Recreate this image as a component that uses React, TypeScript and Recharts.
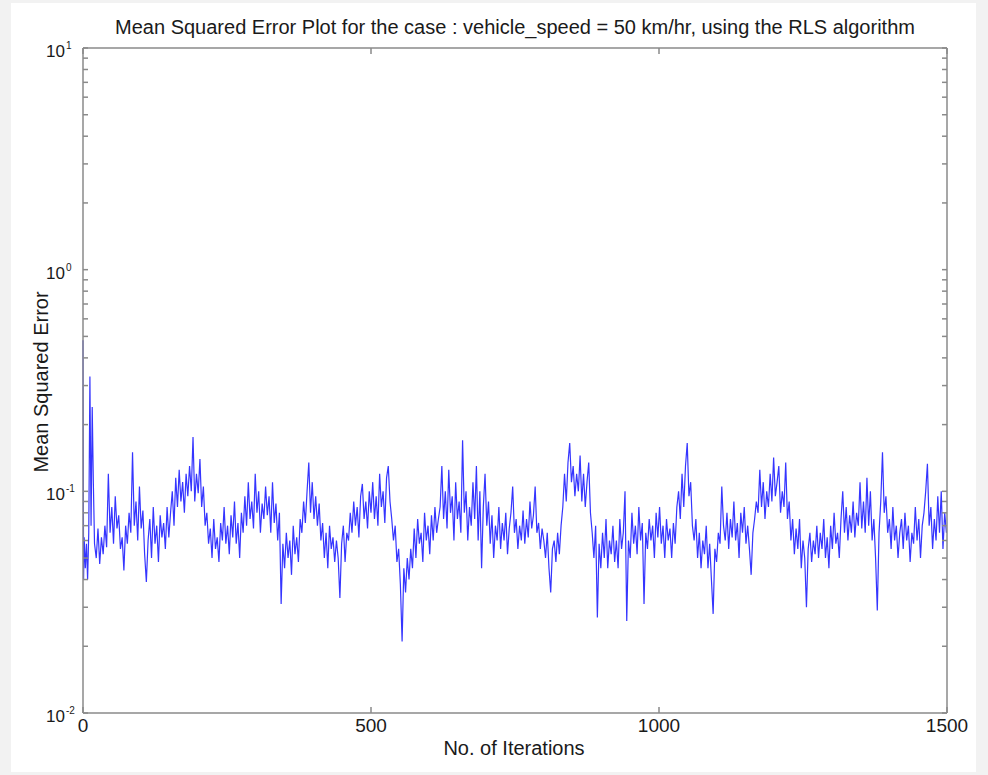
import { Line, LineChart, XAxis, YAxis } from "recharts";

// first iterations are drawn denser, the start has two spikes
const HEAD_ITER = [0, 1, 2, 4, 6, 8, 10, 12, 14, 16, 18];
const HEAD_MSE = [0.48, 0.04, 0.062, 0.045, 0.058, 0.04, 0.065, 0.33, 0.07, 0.24, 0.108];

// rest of the curve, one value every STEP iterations starting at BODY_START
const BODY_START = 20;
const STEP = 3;
const MSE = [
    // 20 - 77
    0.058, 0.05, 0.068, 0.047, 0.062, 0.052, 0.07, 0.056, 0.12, 0.065,
    0.085, 0.058, 0.095, 0.068, 0.078, 0.055, 0.062, 0.044, 0.07, 0.058,
    // 80 - 137
    0.08, 0.065, 0.15, 0.07, 0.09, 0.06, 0.105, 0.068, 0.082, 0.052,
    0.039, 0.06, 0.075, 0.05, 0.085, 0.058, 0.07, 0.048, 0.078, 0.062,
    // 140 - 197
    0.072, 0.055, 0.085, 0.062, 0.08, 0.1, 0.07, 0.115, 0.085, 0.125,
    0.09, 0.11, 0.08, 0.12, 0.095, 0.13, 0.1, 0.176, 0.09, 0.12,
    // 200 - 257
    0.098, 0.14, 0.085, 0.105, 0.07, 0.08, 0.058, 0.068, 0.05, 0.075,
    0.055, 0.062, 0.048, 0.072, 0.06, 0.085, 0.058, 0.07, 0.052, 0.078,
    // 260 - 317
    0.062, 0.09, 0.058, 0.072, 0.05, 0.08, 0.065, 0.095, 0.07, 0.11,
    0.075, 0.09, 0.068, 0.12, 0.08, 0.1, 0.065, 0.088, 0.075, 0.105,
    // 320 - 377
    0.078, 0.095, 0.065, 0.11, 0.072, 0.088, 0.06, 0.08, 0.031, 0.058,
    0.045, 0.065, 0.05, 0.06, 0.042, 0.07, 0.052, 0.062, 0.048, 0.075,
    // 380 - 437
    0.065, 0.09, 0.072, 0.1, 0.135, 0.08, 0.11, 0.075, 0.095, 0.07,
    0.088, 0.06, 0.072, 0.05, 0.065, 0.045, 0.07, 0.055, 0.062, 0.048,
    // 440 - 497
    0.06, 0.05, 0.033, 0.058, 0.07, 0.048, 0.065, 0.06, 0.08, 0.065,
    0.09, 0.07, 0.085, 0.062, 0.095, 0.108, 0.075, 0.09, 0.068, 0.1,
    // 500 - 557
    0.08, 0.11, 0.075, 0.095, 0.07, 0.12, 0.085, 0.1, 0.072, 0.115,
    0.13, 0.09, 0.075, 0.06, 0.07, 0.048, 0.055, 0.038, 0.021, 0.045,
    // 560 - 617
    0.035, 0.05, 0.04, 0.055, 0.045, 0.068, 0.05, 0.075, 0.058, 0.065,
    0.048, 0.08, 0.06, 0.07, 0.052, 0.078, 0.06, 0.085, 0.065, 0.075,
    // 620 - 677
    0.085, 0.13, 0.075, 0.1, 0.068, 0.125, 0.08, 0.095, 0.06, 0.11,
    0.075, 0.09, 0.065, 0.17, 0.08, 0.1, 0.06, 0.085, 0.07, 0.11,
    // 680 - 737
    0.075, 0.13, 0.06, 0.1, 0.045, 0.085, 0.12, 0.07, 0.09, 0.058,
    0.078, 0.05, 0.07, 0.06, 0.085, 0.055, 0.072, 0.06, 0.08, 0.052,
    // 740 - 797
    0.068, 0.08, 0.105, 0.065, 0.075, 0.055, 0.07, 0.06, 0.082, 0.058,
    0.075, 0.062, 0.09, 0.068, 0.078, 0.105, 0.065, 0.072, 0.055, 0.068,
    // 800 - 857
    0.06, 0.05, 0.065, 0.045, 0.035, 0.055, 0.06, 0.048, 0.065, 0.052,
    0.07, 0.085, 0.12, 0.09, 0.135, 0.165, 0.11, 0.13, 0.095, 0.12,
    // 860 - 917
    0.1, 0.145, 0.09, 0.12, 0.085, 0.11, 0.135, 0.08, 0.065, 0.05,
    0.07, 0.027, 0.058, 0.045, 0.065, 0.05, 0.075, 0.045, 0.06, 0.052,
    // 920 - 977
    0.07, 0.048, 0.06, 0.045, 0.075, 0.055, 0.065, 0.1, 0.026, 0.06,
    0.05, 0.08, 0.058, 0.07, 0.052, 0.085, 0.06, 0.072, 0.031, 0.065,
    // 980 - 1037
    0.055, 0.075, 0.06, 0.07, 0.05, 0.08, 0.062, 0.085, 0.058, 0.07,
    0.05, 0.075, 0.06, 0.068, 0.05, 0.072, 0.058, 0.085, 0.1, 0.075,
    // 1040 - 1097
    0.12, 0.085, 0.13, 0.165, 0.095, 0.11, 0.07, 0.06, 0.075, 0.05,
    0.065, 0.045, 0.06, 0.052, 0.07, 0.045, 0.058, 0.04, 0.028, 0.055,
    // 1100 - 1157
    0.048, 0.065, 0.058, 0.105, 0.07, 0.06, 0.08, 0.055, 0.075, 0.062,
    0.09, 0.06, 0.072, 0.05, 0.08, 0.065, 0.085, 0.058, 0.07, 0.055,
    // 1160 - 1217
    0.042, 0.065, 0.075, 0.09, 0.08, 0.125, 0.085, 0.11, 0.075, 0.1,
    0.085, 0.12, 0.09, 0.142, 0.095, 0.11, 0.13, 0.08, 0.1, 0.085,
    // 1220 - 1277
    0.135, 0.075, 0.09, 0.06, 0.075, 0.052, 0.068, 0.055, 0.075, 0.045,
    0.06, 0.05, 0.03, 0.055, 0.065, 0.048, 0.06, 0.052, 0.07, 0.05,
    // 1280 - 1337
    0.065, 0.055, 0.075, 0.05, 0.062, 0.045, 0.07, 0.055, 0.08, 0.058,
    0.065, 0.05, 0.075, 0.1, 0.065, 0.085, 0.06, 0.078, 0.065, 0.09,
    // 1340 - 1397
    0.062, 0.08, 0.07, 0.11, 0.068, 0.09, 0.065, 0.115, 0.07, 0.1,
    0.06, 0.075, 0.05, 0.029, 0.065, 0.09, 0.15, 0.08, 0.095, 0.065,
    // 1400 - 1457
    0.075, 0.055, 0.085, 0.06, 0.07, 0.05, 0.065, 0.075, 0.055, 0.08,
    0.06, 0.07, 0.048, 0.065, 0.058, 0.085, 0.06, 0.075, 0.05, 0.07,
    // 1460 - 1499
    0.08, 0.1, 0.133, 0.07, 0.085, 0.055, 0.075, 0.06, 0.095, 0.065,
    0.1, 0.055, 0.08, 0.065,
];

const X_TICKS = [0, 500, 1000, 1500];
const Y_TICKS = [
    0.01, 0.02, 0.03, 0.04, 0.05, 0.06, 0.07, 0.08, 0.09,
    0.1, 0.2, 0.3, 0.4, 0.5, 0.6, 0.7, 0.8, 0.9,
    1, 2, 3, 4, 5, 6, 7, 8, 9, 10,
];

const TITLE = "Mean Squared Error Plot for the case : vehicle_speed = 50 km/hr, using the RLS algorithm";
const X_LABEL = "No. of Iterations";
const Y_LABEL = "Mean Squared Error";

const FONT = "'Liberation Sans', Arial, Helvetica, sans-serif";
const AXIS_COLOR = "#8a8a8a";
const TEXT_COLOR = "#1a1a1a";

const data = [
    ...HEAD_ITER.map((it, i) => ({ it, mse: HEAD_MSE[i] })),
    ...MSE.map((mse, i) => ({ it: BODY_START + i * STEP, mse })),
];

interface TickProps {
    x?: number;
    y?: number;
    payload?: { value: number };
}

// only powers of ten get a label, written as 10 with a raised exponent
function LogTick({ x = 0, y = 0, payload }: TickProps) {
    if (!payload) return <g />;
    const lg = Math.log10(payload.value);
    const exp = Math.round(lg);
    if (Math.abs(lg - exp) > 1e-6) return <g />;
    return (
        <g fontFamily={FONT} fill={TEXT_COLOR}>
            <text x={x} y={y + 9} textAnchor="end" fontSize={17}>
                10
            </text>
            <text x={x + 1} y={y + 1} fontSize={10}>
                {exp}
            </text>
        </g>
    );
}

// mirrored axes keep their tick marks but show no labels
function NoLabel() {
    return <g />;
}

export default function App() {
    return (
        <div style={{ position: "absolute", left: 0, top: 0, width: 988, height: 775, background: "#f2f2f2" }}>
            <div style={{ position: "absolute", left: 11, top: 3, width: 965, height: 769, background: "#ffffff" }} />
            <div style={{ position: "absolute", left: 0, top: 0 }}>
                <LineChart width={988} height={775} data={data} margin={{ top: 47, right: 40, left: 23, bottom: 32 }}>
                    <XAxis
                        xAxisId="bottom"
                        dataKey="it"
                        type="number"
                        domain={[0, 1500]}
                        ticks={X_TICKS}
                        height={30}
                        tickSize={-6}
                        tickMargin={12}
                        stroke={AXIS_COLOR}
                        strokeWidth={1.5}
                        tick={{ fill: TEXT_COLOR, fontSize: 19, fontFamily: FONT }}
                    />
                    <XAxis
                        xAxisId="top"
                        orientation="top"
                        dataKey="it"
                        type="number"
                        domain={[0, 1500]}
                        ticks={X_TICKS}
                        height={1}
                        tickSize={-6}
                        stroke={AXIS_COLOR}
                        strokeWidth={1.5}
                        tick={<NoLabel />}
                    />
                    <YAxis
                        yAxisId="left"
                        scale="log"
                        domain={[0.01, 10]}
                        allowDataOverflow
                        ticks={Y_TICKS}
                        interval={0}
                        width={60}
                        tickSize={-5}
                        tickMargin={23}
                        stroke={AXIS_COLOR}
                        strokeWidth={1.5}
                        tick={<LogTick />}
                    />
                    <YAxis
                        yAxisId="right"
                        orientation="right"
                        scale="log"
                        domain={[0.01, 10]}
                        allowDataOverflow
                        ticks={Y_TICKS}
                        interval={0}
                        width={1}
                        tickSize={-5}
                        stroke={AXIS_COLOR}
                        strokeWidth={1.5}
                        tick={<NoLabel />}
                    />
                    <Line
                        xAxisId="top"
                        yAxisId="right"
                        dataKey="mse"
                        stroke="none"
                        dot={false}
                        activeDot={false}
                        isAnimationActive={false}
                    />
                    <Line
                        xAxisId="bottom"
                        yAxisId="left"
                        dataKey="mse"
                        type="linear"
                        stroke="#3535ff"
                        strokeWidth={1.2}
                        dot={false}
                        activeDot={false}
                        isAnimationActive={false}
                    />
                </LineChart>
            </div>
            <svg width={988} height={775} style={{ position: "absolute", left: 0, top: 0, pointerEvents: "none" }}>
                <g fontFamily={FONT} fill={TEXT_COLOR}>
                    <text x={515} y={34} textAnchor="middle" fontSize={20}>
                        {TITLE}
                    </text>
                    <text x={514} y={755} textAnchor="middle" fontSize={20}>
                        {X_LABEL}
                    </text>
                    <text x={48} y={382} textAnchor="middle" fontSize={20} transform="rotate(-90 48 382)">
                        {Y_LABEL}
                    </text>
                </g>
            </svg>
        </div>
    );
}
